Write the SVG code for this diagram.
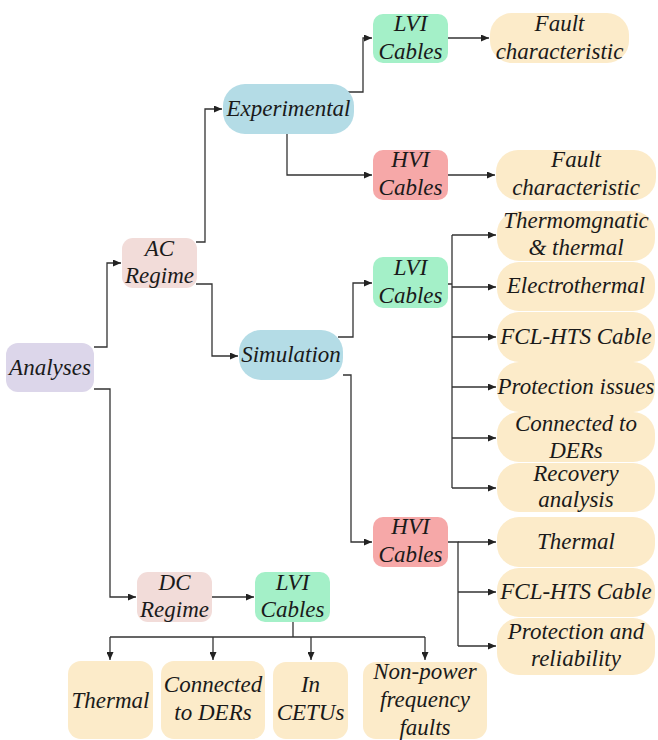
<svg xmlns="http://www.w3.org/2000/svg" width="658" height="740" viewBox="0 0 658 740">
<defs>
<marker id="ah" markerWidth="8" markerHeight="7" refX="8" refY="3.5" orient="auto" markerUnits="userSpaceOnUse">
<path d="M0,0 L8,3.5 L0,7 z" fill="#222"/>
</marker>
</defs>
<rect width="658" height="740" fill="#ffffff"/>
<g id="connectors" fill="none" stroke="#333" stroke-width="1.3">
<path d="M94,347 H107 V263 H121" marker-end="url(#ah)"/>
<path d="M94,389 H110 V597 H136" marker-end="url(#ah)"/>
<path d="M196,242 H205 V109 H222" marker-end="url(#ah)"/>
<path d="M196,284 H212 V356 H238" marker-end="url(#ah)"/>
<path d="M346,92 H363 V38 H372" marker-end="url(#ah)"/>
<path d="M287,134 V175 H372" marker-end="url(#ah)"/>
<path d="M448,38 H489" marker-end="url(#ah)"/>
<path d="M448,175 H495" marker-end="url(#ah)"/>
<path d="M338,337 H353 V283 H372" marker-end="url(#ah)"/>
<path d="M343,375 H351 V542 H372" marker-end="url(#ah)"/>
<path d="M448,284 H452 M452,235 V488"/>
<path d="M452,235 H496" marker-end="url(#ah)"/>
<path d="M452,287 H496" marker-end="url(#ah)"/>
<path d="M452,337 H496" marker-end="url(#ah)"/>
<path d="M452,387 H496" marker-end="url(#ah)"/>
<path d="M452,438 H496" marker-end="url(#ah)"/>
<path d="M452,488 H496" marker-end="url(#ah)"/>
<path d="M448,542 H458 V646"/>
<path d="M458,542 H496" marker-end="url(#ah)"/>
<path d="M458,592 H496" marker-end="url(#ah)"/>
<path d="M458,646 H496" marker-end="url(#ah)"/>
<path d="M212,597 H254" marker-end="url(#ah)"/>
<path d="M293,622 V637 M110,637 H425"/>
<path d="M110,637 V660" marker-end="url(#ah)"/>
<path d="M213,637 V660" marker-end="url(#ah)"/>
<path d="M311,637 V660" marker-end="url(#ah)"/>
<path d="M425,637 V660" marker-end="url(#ah)"/>
</g>
<g id="nodes" style="font-family:'Liberation Serif';font-style:italic;font-size:23px" text-anchor="middle" fill="#1a1a1a">
<g id="analyses"><rect fill="#dcd6ea" x="6" y="343" width="88" height="49" rx="12"/><text x="50" y="375">Analyses</text></g>
<g id="ac-regime"><rect fill="#f2dcd9" x="122" y="238" width="75" height="50" rx="11"/><text x="159.5" y="256">AC</text><text x="159.5" y="283">Regime</text></g>
<g id="dc-regime"><rect fill="#f2dcd9" x="137" y="572" width="75" height="50" rx="11"/><text x="174.5" y="590">DC</text><text x="174.5" y="617">Regime</text></g>
<g id="experimental"><rect fill="#b4dce6" x="223" y="84" width="131" height="50" rx="22"/><text x="288.5" y="116">Experimental</text></g>
<g id="simulation"><rect fill="#b4dce6" x="239" y="330" width="104" height="50" rx="22"/><text x="291" y="362">Simulation</text></g>
<g id="lvi-exp"><rect fill="#a4f0c8" x="373" y="14" width="75" height="49" rx="10"/><text x="410.5" y="31">LVI</text><text x="410.5" y="59">Cables</text></g>
<g id="hvi-exp"><rect fill="#f6a8a8" x="373" y="150" width="75" height="50" rx="10"/><text x="410.5" y="167">HVI</text><text x="410.5" y="195">Cables</text></g>
<g id="lvi-sim"><rect fill="#a4f0c8" x="373" y="257" width="75" height="51" rx="10"/><text x="410.5" y="275">LVI</text><text x="410.5" y="303">Cables</text></g>
<g id="hvi-sim"><rect fill="#f6a8a8" x="373" y="517" width="75" height="50" rx="10"/><text x="410.5" y="534">HVI</text><text x="410.5" y="562">Cables</text></g>
<g id="lvi-dc"><rect fill="#a4f0c8" x="255" y="572" width="75" height="50" rx="10"/><text x="292.5" y="590">LVI</text><text x="292.5" y="617">Cables</text></g>
<g id="fault-lvi"><rect fill="#fcebc9" x="490" y="13" width="139" height="50" rx="22"/><text x="559.5" y="31">Fault</text><text x="559.5" y="59">characteristic</text></g>
<g id="fault-hvi"><rect fill="#fcebc9" x="496" y="150" width="160" height="50" rx="22"/><text x="576" y="167">Fault</text><text x="576" y="195">characteristic</text></g>
<g id="thermomagnetic"><rect fill="#fcebc9" x="497" y="211" width="158" height="50" rx="22"/><text x="576" y="228">Thermomgnatic</text><text x="576" y="255">&amp; thermal</text></g>
<g id="electrothermal"><rect fill="#fcebc9" x="497" y="262" width="158" height="49" rx="22"/><text x="576" y="293">Electrothermal</text></g>
<g id="fcl-lvi"><rect fill="#fcebc9" x="497" y="312" width="158" height="50" rx="22"/><text x="576" y="344">FCL-HTS Cable</text></g>
<g id="protection-issues"><rect fill="#fcebc9" x="497" y="362" width="158" height="50" rx="22"/><text x="576" y="394">Protection issues</text></g>
<g id="ders-lvi"><rect fill="#fcebc9" x="497" y="412" width="158" height="50" rx="22"/><text x="576" y="431">Connected to</text><text x="576" y="458">DERs</text></g>
<g id="recovery"><rect fill="#fcebc9" x="497" y="463" width="158" height="49" rx="22"/><text x="576" y="481">Recovery</text><text x="576" y="507">analysis</text></g>
<g id="thermal-hvi"><rect fill="#fcebc9" x="497" y="517" width="158" height="50" rx="22"/><text x="576" y="549">Thermal</text></g>
<g id="fcl-hvi"><rect fill="#fcebc9" x="497" y="568" width="158" height="49" rx="22"/><text x="576" y="599">FCL-HTS Cable</text></g>
<g id="protection-reliability"><rect fill="#fcebc9" x="497" y="618" width="158" height="57" rx="22"/><text x="576" y="639">Protection and</text><text x="576" y="666">reliability</text></g>
<g id="thermal-dc"><rect fill="#fcebc9" x="68" y="661" width="85" height="78" rx="13"/><text x="110.5" y="708">Thermal</text></g>
<g id="ders-dc"><rect fill="#fcebc9" x="161" y="661" width="104" height="78" rx="13"/><text x="213" y="692">Connected</text><text x="213" y="720">to DERs</text></g>
<g id="cetus"><rect fill="#fcebc9" x="273" y="662" width="75" height="77" rx="13"/><text x="310.5" y="692">In</text><text x="310.5" y="720">CETUs</text></g>
<g id="non-power"><rect fill="#fcebc9" x="363" y="662" width="124" height="77" rx="13"/><text x="425" y="679">Non-power</text><text x="425" y="707">frequency</text><text x="425" y="735">faults</text></g>
</g>
</svg>
